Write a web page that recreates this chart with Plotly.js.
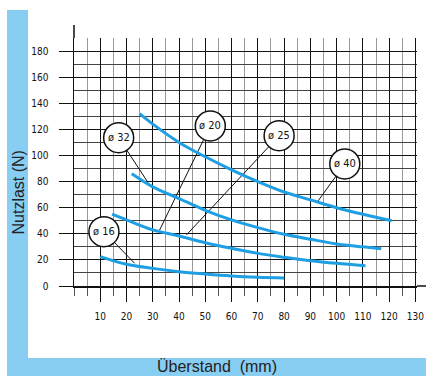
<!DOCTYPE html>
<html>
<head>
<meta charset="utf-8">
<script src="https://cdn.plot.ly/plotly-3.0.1.min.js"></script>
<style>html,body{margin:0;padding:0;background:#fff;}#chart{width:426px;height:376px;}</style>
</head>
<body>
<div id="chart"></div>
<script>
// Curves (Überstand mm, Nutzlast N)
var curveA_x = [25, 30, 40, 50, 60, 70, 80, 90, 100, 110, 121];
var curveA_y = [132, 124, 110, 99, 89, 80, 72, 66, 60, 55, 50];
var curveB_x = [22, 30, 40, 50, 60, 70, 80, 90, 100, 110, 117];
var curveB_y = [86, 76, 67, 58, 50.6, 44.7, 39.6, 35.8, 32.2, 30, 28.6];
var curveC_x = [14.5, 20, 30, 40, 50, 60, 70, 80, 90, 100, 111];
var curveC_y = [55, 50.6, 43, 38.3, 33.2, 28.9, 25, 22, 19.4, 17.4, 15.6];
var curveD_x = [10, 20, 30, 40, 50, 60, 70, 80];
var curveD_y = [22.5, 16.6, 13.5, 11, 9.2, 7.7, 6.7, 6.1];

// Diameter labels
var labelText = ["ø 32", "ø 20", "ø 25", "ø 40", "ø 16"];
var labelX = [17.0, 51.9, 78.1, 103.1, 11.4];
var labelY = [113.6, 122.6, 115.2, 93.5, 41.6];
var leaderX = [28.2, 32.6, 42.8, 92.9, 23.1];
var leaderY = [79.2, 42.9, 39.1, 65.1, 17.4];

// Ticks
var xTicks = [10, 20, 30, 40, 50, 60, 70, 80, 90, 100, 110, 120, 130];
var yTicks = [0, 20, 40, 60, 80, 100, 120, 140, 160, 180];
var xTitle = "Überstand\u00a0\u00a0(mm)";
var yTitle = "Nutzlast (N)";

var blue = "#1e9fe3";
var tickFont = {family: "Liberation Sans Narrow, DejaVu Sans Condensed, sans-serif", size: 10, color: "#111"};

function curve(x, y) {
  return {x: x, y: y, type: "scatter", mode: "lines",
    line: {color: blue, width: 3, shape: "spline"}, hoverinfo: "skip", showlegend: false};
}
var data = [curve(curveA_x, curveA_y), curve(curveB_x, curveB_y), curve(curveC_x, curveC_y), curve(curveD_x, curveD_y)];

var L = 74, T = 38, W = 343, H = 248;
function px(p) { return (p - L) / W; }
function py(p) { return (T + H - p) / H; }

var shapes = [
  {type: "rect", xref: "paper", yref: "paper", x0: px(7), x1: px(426), y0: py(376), y1: py(10),
    fillcolor: "#88cdf2", line: {width: 0}, layer: "below"},
  {type: "rect", xref: "paper", yref: "paper", x0: px(28), x1: px(426), y0: py(358), y1: py(10),
    fillcolor: "#ffffff", line: {width: 0}, layer: "below"},
  {type: "line", xref: "paper", yref: "paper", x0: 0, x1: 0, y0: 1, y1: py(25),
    line: {color: "#111", width: 1.5}},
  {type: "line", xref: "paper", yref: "paper", x0: 1, x1: px(426), y0: 0, y1: 0,
    line: {color: "#111", width: 1.5}}
];
var annotations = [];
for (var i = 0; i < labelText.length; i++) {
  shapes.push({type: "line", xref: "x", yref: "y", x0: labelX[i], y0: labelY[i], x1: leaderX[i], y1: leaderY[i],
    line: {color: "#111", width: 1}, layer: "between"});
}
for (var j = 0; j < labelText.length; j++) {
  shapes.push({type: "circle", xref: "x", yref: "y", xsizemode: "pixel", ysizemode: "pixel",
    xanchor: labelX[j], yanchor: labelY[j], x0: -15, x1: 15, y0: -15, y1: 15,
    fillcolor: "#ffffff", line: {color: "#111", width: 1.5}, layer: "above"});
  annotations.push({x: labelX[j], y: labelY[j], xref: "x", yref: "y", text: labelText[j], showarrow: false,
    xanchor: "center", yanchor: "middle",
    font: {family: "Liberation Sans Narrow, DejaVu Sans Condensed, sans-serif", size: 11, color: "#111"}});
}
annotations.push({xref: "paper", yref: "paper", x: px(18), y: py(192.5), text: yTitle, textangle: -90,
  xanchor: "center", yanchor: "middle",
  showarrow: false, font: {family: "Liberation Sans, Arial, sans-serif", size: 16, color: "#222"}});
annotations.push({xref: "paper", yref: "paper", x: px(217), y: py(366), text: xTitle,
  xanchor: "center", yanchor: "middle",
  showarrow: false, font: {family: "Liberation Sans, Arial, sans-serif", size: 16, color: "#222"}});

var layout = {
  width: 426, height: 376,
  margin: {l: L, r: 426 - L - W, t: T, b: 376 - T - H, pad: 0},
  paper_bgcolor: "#ffffff", plot_bgcolor: "rgba(0,0,0,0)",
  showlegend: false,
  xaxis: {range: [0, 130.6], tickmode: "array", tickvals: xTicks, ticktext: xTicks.map(String),
    ticks: "outside", ticklen: 14, tickcolor: "#111", tickwidth: 1, ticklabelstandoff: 6,
    tickfont: tickFont, showgrid: true, gridcolor: "#111", gridwidth: 1,
    minor: {tickmode: "linear", tick0: 0, dtick: 5, ticks: "outside", ticklen: 8, tickcolor: "#555",
      showgrid: true, gridcolor: "#999", gridwidth: 1},
    showline: true, linecolor: "#111", linewidth: 1.5, zeroline: false, fixedrange: true},
  yaxis: {range: [0, 190], tickmode: "array", tickvals: yTicks, ticktext: yTicks.map(String),
    ticks: "outside", ticklen: 14, tickcolor: "#111", tickwidth: 1, ticklabelstandoff: 8,
    tickfont: tickFont, showgrid: true, gridcolor: "#111", gridwidth: 1,
    minor: {tickmode: "linear", tick0: 0, dtick: 10, ticks: "", showgrid: true, gridcolor: "#444", gridwidth: 1},
    showline: true, linecolor: "#111", linewidth: 1.5, zeroline: false, fixedrange: true},
  shapes: shapes,
  annotations: annotations
};
Plotly.newPlot("chart", data, layout, {displayModeBar: false, staticPlot: true});
</script>
</body>
</html>
